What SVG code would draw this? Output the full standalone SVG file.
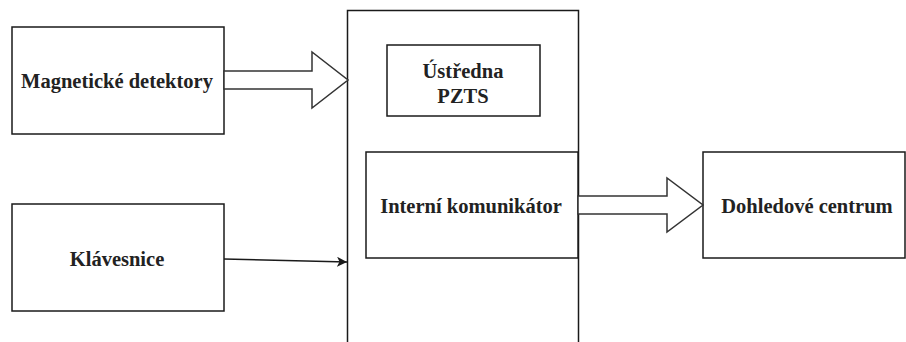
<svg xmlns="http://www.w3.org/2000/svg" width="906" height="342" viewBox="0 0 906 342">
<style>
.box{fill:#fff;stroke:#1a1a1a;stroke-width:1.5}
.t{font-family:"Liberation Serif","DejaVu Serif","Times New Roman",serif;font-weight:bold;font-size:20.5px;fill:#222;text-anchor:middle}
.fat{fill:#fff;stroke:#333;stroke-width:1.5;stroke-linejoin:miter}
.ln{stroke:#1a1a1a;stroke-width:1.5;fill:none}
</style>
<defs>
<marker id="ah" viewBox="0 0 10 10" refX="10" refY="5" markerWidth="10" markerHeight="10" markerUnits="userSpaceOnUse" orient="auto">
<path d="M0,0 L10,5 L0,10 L2.5,5 Z" fill="#1a1a1a"/>
</marker>
</defs>
<rect width="906" height="342" fill="#fff"/>
<g id="pzts-frame"><rect class="box" x="347.5" y="10.5" width="231" height="340"/></g>
<g id="magneticke"><rect class="box" x="12" y="27" width="212" height="107"/><text class="t" x="117" y="88">Magnetické detektory</text></g>
<g id="klavesnice"><rect class="box" x="12" y="204" width="212" height="107"/><text class="t" x="117" y="266">Klávesnice</text></g>
<g id="ustredna"><rect class="box" x="387" y="45" width="153" height="71"/><text class="t" x="463" y="78">Ústředna</text><text class="t" x="463" y="103">PZTS</text></g>
<g id="komunikator"><rect class="box" x="366" y="152" width="212" height="106"/><text class="t" x="471" y="213">Interní komunikátor</text></g>
<g id="dohled"><rect class="box" x="703" y="152" width="202" height="106"/><text class="t" x="807" y="213">Dohledové centrum</text></g>
<g id="connectors">
<path class="fat" d="M224,71 L312,71 L312,52 L348,80 L312,108 L312,89 L224,89 Z"/>
<line class="ln" x1="224" y1="259" x2="347" y2="262" marker-end="url(#ah)"/>
<path class="fat" d="M578,196 L667,196 L667,178 L703,205 L667,232 L667,214 L578,214 Z"/>
</g>
</svg>
